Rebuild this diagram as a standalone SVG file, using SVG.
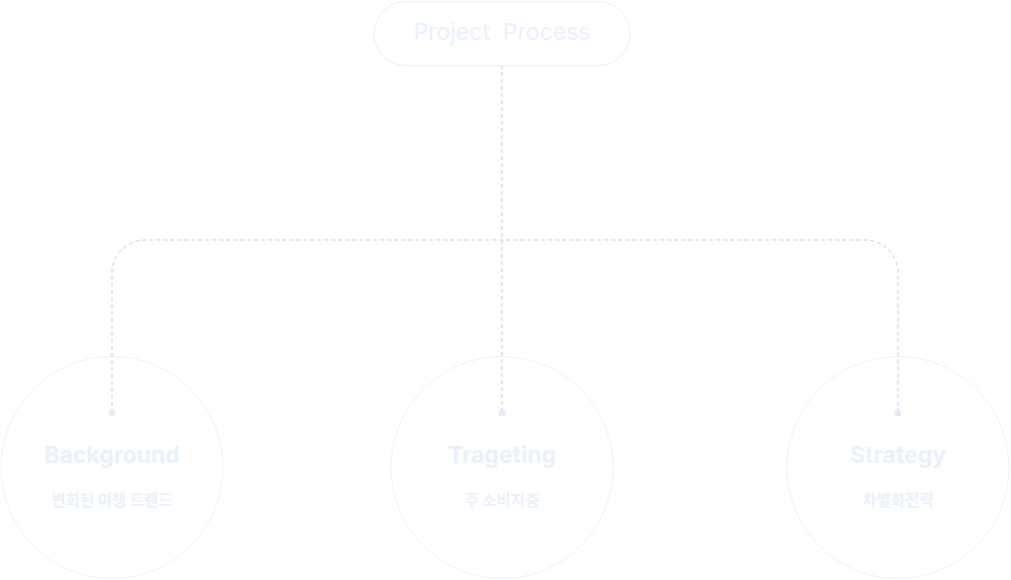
<svg xmlns="http://www.w3.org/2000/svg" width="1011" height="580" viewBox="0 0 1011 580">
<style>
.pill{fill:#fff;stroke:#e9f0fa;stroke-width:1}
.circ{fill:none;stroke:#edf2fb;stroke-width:1}
.t1{font-family:Inter,"Noto Sans","Noto Sans CJK KR",sans-serif;font-size:23px;fill:#e9f1fc;text-anchor:middle;white-space:pre}
.t2{font-family:Inter,"Noto Sans CJK KR",sans-serif;font-size:23px;font-weight:700;fill:#e9f1fc;text-anchor:middle}
.t3{font-family:"Noto Sans CJK KR",sans-serif;font-size:15.5px;font-weight:700;fill:#ebf1fb;text-anchor:middle}
.dash{fill:none;stroke:#c9cdd6;stroke-width:1;stroke-dasharray:4 3}
.dot{fill:#e2ebf7}
</style>
<g id="background">
<circle class="circ" cx="112" cy="467.5" r="111"/>
<text class="t2" x="112" y="463">Background</text>
<text class="t3" x="112" y="506">변화된 여행 트랜드</text>
</g>
<g id="targeting">
<circle class="circ" cx="502" cy="467.5" r="111"/>
<text class="t2" x="502" y="463">Trageting</text>
<text class="t3" x="502" y="506">주 소비자층</text>
</g>
<g id="strategy">
<circle class="circ" cx="898" cy="467.5" r="111"/>
<text class="t2" x="898" y="463">Strategy</text>
<text class="t3" x="898" y="506">차별화전략</text>
</g>
<g id="connectors">
<path class="dash" d="M502 65 V413"/>
<path class="dash" d="M112 413 V273 A33 33 0 0 1 145 240 H865 A33 33 0 0 1 898 273 V413"/>
<circle class="dot" cx="112" cy="413" r="3.5"/>
<circle class="dot" cx="502" cy="413" r="3.5"/>
<circle class="dot" cx="898" cy="413" r="3.5"/>
</g>
<g id="root">
<rect class="pill" x="374" y="1.5" width="256" height="64" rx="32"/>
<text class="t1" x="502" y="40">Project  Process</text>
</g>
</svg>
